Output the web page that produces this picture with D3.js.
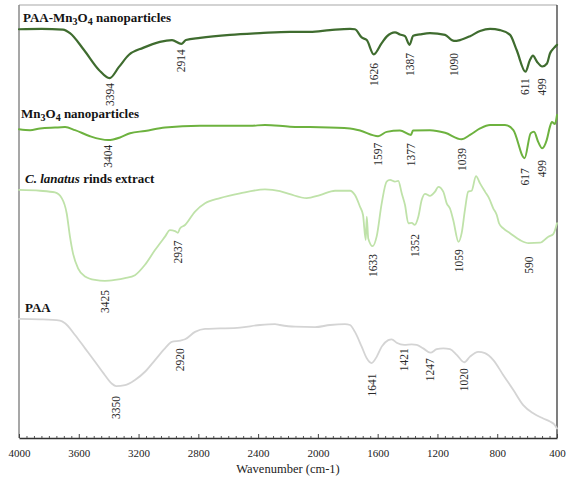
<!DOCTYPE html>
<html>
<head>
<meta charset="utf-8">
<script src="https://cdn.jsdelivr.net/npm/d3@7"></script>
<style>
  body { margin: 0; background: #fff; }
  svg { display: block; font-family: "Liberation Serif", "Times New Roman", serif; }
</style>
</head>
<body>
<svg id="chart" width="573" height="478"></svg>
<script>
// FTIR spectra, stacked with vertical offsets (arbitrary transmittance units, 0-100)
// Each point: [wavenumber (cm-1), offset transmittance]

const majorTicks = [4000, 3600, 3200, 2800, 2400, 2000, 1600, 1200, 800, 400];

const paaMnSpectrum = [
  [4000,94.4],[3850,94.5],[3706,94.3],[3659,93.5],[3565,89.6],[3465,85.0],[3394,83.1],
  [3331,85.7],[3264,88.5],[3170,90.1],[3057,91.5],[2976,91.9],[2914,91.0],[2883,91.9],
  [2789,92.4],[2588,93.1],[2387,93.5],[2187,93.8],[2053,93.8],[1919,94.2],[1785,94.5],
  [1752,94.4],[1707,92.5],[1673,91.9],[1626,88.6],[1573,91.2],[1540,92.7],[1484,93.7],
  [1451,93.2],[1417,92.8],[1387,90.8],[1362,92.9],[1317,93.2],[1250,93.5],[1149,93.1],
  [1105,91.9],[1090,91.7],[1049,91.9],[982,92.8],[915,94.0],[848,94.5],[781,94.2],
  [714,93.1],[670,89.6],[611,84.6],[581,87.3],[561,88.3],[534,86.9],[499,85.8],
  [467,86.5],[447,88.8],[420,90.1],[400,90.8]
];

const mnOxideSpectrum = [
  [4000,71.3],[3926,71.1],[3859,71.5],[3759,71.7],[3692,71.8],[3625,71.1],[3525,69.7],
  [3404,68.8],[3324,69.4],[3257,70.4],[3157,70.9],[3023,71.7],[2789,72.1],[2454,72.1],
  [2354,72.3],[2187,71.9],[2053,71.8],[1785,71.5],[1718,71.0],[1597,69.7],[1540,70.7],
  [1451,71.0],[1377,70.0],[1364,71.0],[1250,71.1],[1149,70.5],[1039,69.0],[982,70.0],
  [915,71.5],[848,72.3],[748,72.3],[692,71.1],[617,64.6],[576,70.4],[554,70.7],
  [526,68.4],[499,66.9],[469,68.8],[447,71.9],[434,73.0],[414,72.5],[400,74.6]
];

const rindExtractSpectrum = [
  [4000,57.3],[3859,57.1],[3759,56.7],[3714,55.4],[3681,51.9],[3659,46.5],[3639,42.7],
  [3605,39.2],[3558,37.3],[3491,36.5],[3425,36.3],[3358,36.5],[3291,36.9],[3224,37.6],
  [3157,40.0],[3090,43.4],[3023,46.5],[2990,48.0],[2956,47.8],[2937,47.4],[2923,48.4],
  [2889,49.2],[2822,52.3],[2755,54.2],[2655,55.4],[2521,56.5],[2354,57.4],[2254,57.0],
  [2187,56.3],[2075,55.4],[1986,56.1],[1885,57.1],[1785,57.1],[1752,56.1],[1718,53.4],
  [1698,51.5],[1680,45.7],[1673,51.1],[1663,46.1],[1633,44.3],[1607,46.5],[1573,54.2],
  [1540,59.2],[1517,59.6],[1484,59.2],[1462,59.4],[1439,56.5],[1417,53.8],[1395,49.6],
  [1372,49.7],[1352,49.2],[1328,51.1],[1305,55.0],[1283,56.4],[1250,55.9],[1216,56.9],
  [1194,58.0],[1161,56.9],[1138,54.2],[1116,53.0],[1094,50.3],[1059,45.3],[1038,47.3],
  [1016,52.7],[994,56.9],[971,57.1],[942,60.5],[915,58.8],[882,56.9],[855,55.4],
  [826,53.0],[803,51.5],[788,49.6],[759,48.4],[714,47.3],[647,45.7],[590,45.0],
  [514,45.1],[458,46.5],[425,47.1],[400,49.6]
];

const paaSpectrum = [
  [4000,27.5],[3859,27.4],[3726,27.1],[3692,26.5],[3625,23.8],[3558,20.7],[3491,17.6],
  [3425,14.5],[3380,12.6],[3350,12.0],[3291,12.2],[3224,13.4],[3157,15.3],[3090,18.0],
  [3023,20.7],[2978,22.2],[2920,22.5],[2889,22.8],[2822,24.5],[2755,25.2],[2655,25.3],
  [2521,25.5],[2387,26.1],[2287,26.3],[2254,26.1],[2153,25.7],[2019,25.6],[1919,26.1],
  [1819,26.3],[1785,26.1],[1752,24.5],[1707,21.1],[1673,18.4],[1641,17.3],[1606,18.8],
  [1573,21.1],[1529,22.6],[1506,22.8],[1473,22.0],[1421,21.5],[1372,21.6],[1339,21.5],
  [1295,20.7],[1247,19.7],[1205,20.5],[1161,20.7],[1116,20.5],[1071,19.2],[1020,17.5],
  [982,18.8],[927,19.9],[882,19.6],[826,18.0],[759,14.5],[692,11.1],[626,7.6],
  [559,5.7],[492,4.5],[447,3.8],[420,3.2],[400,2.2]
];

// Peak annotations: [wavenumber, level of the label's upper end]
const paaMnPeaks = [[3394,82.0],[2914,89.8],[1626,86.6],[1387,88.9],[1090,88.9],[611,83.1],[499,83.1]];
const mnOxidePeaks = [[3404,67.7],[1597,68.2],[1377,68.1],[1039,67.0],[617,62.3],[499,64.2]];
const rindExtractPeaks = [[3425,34.2],[2937,45.6],[1633,42.5],[1352,47.1],[1059,43.6],[590,41.9]];
const paaPeaks = [[3350,9.7],[2920,20.7],[1641,14.9],[1421,20.7],[1247,18.4],[1020,16.1]];

// Series names (text runs: s = subscript, i = italic)
const paaMnName = [{t:"PAA-Mn"},{t:"3",s:true},{t:"O"},{t:"4",s:true},{t:" nanoparticles"}];
const mnOxideName = [{t:"Mn"},{t:"3",s:true},{t:"O"},{t:"4",s:true},{t:" nanoparticles"}];
const rindExtractName = [{t:"C. lanatus",i:true},{t:" rinds extract"}];
const paaName = [{t:"PAA"}];

const series = [
  { name: paaMnName, points: paaMnSpectrum, peaks: paaMnPeaks, color: "#3f6c2f", width: 2.2, titleLift: 7, titleX: 4 },
  { name: mnOxideName, points: mnOxideSpectrum, peaks: mnOxidePeaks, color: "#6db23f", width: 2.0, titleLift: 11, titleX: 2 },
  { name: rindExtractName, points: rindExtractSpectrum, peaks: rindExtractPeaks, color: "#bfe2a9", width: 1.8, titleLift: 7, titleX: 6 },
  { name: paaName, points: paaSpectrum, peaks: paaPeaks, color: "#d4d4d4", width: 1.8, titleLift: 7, titleX: 6 }
];

const W = 573, H = 478;
const margin = { top: 5, right: 16, bottom: 40, left: 19 };

const svg = d3.select("#chart");

const x = d3.scaleLinear().domain([4000, 400]).range([margin.left, W - margin.right]);
const y = d3.scaleLinear().domain([0, 100]).range([H - margin.bottom, margin.top]);

// Plot frame
const frame = svg.append("g");
frame.append("line").attr("x1", x(4000)).attr("x2", x(400)).attr("y1", y(100)).attr("y2", y(100))
  .attr("stroke", "#a8a8a8").attr("stroke-width", 1.2);
frame.append("line").attr("x1", x(4000)).attr("x2", x(4000)).attr("y1", y(100)).attr("y2", y(0))
  .attr("stroke", "#8a8a8a").attr("stroke-width", 1.5);
frame.append("line").attr("x1", x(400)).attr("x2", x(400)).attr("y1", y(100)).attr("y2", y(0))
  .attr("stroke", "#3a3a3a").attr("stroke-width", 1.3);

// Spectra
const line = d3.line()
  .x(d => x(d[0]))
  .y(d => y(d[1]))
  .curve(d3.curveMonotoneX);

series.forEach(s => {
  svg.append("path")
    .datum(s.points)
    .attr("fill", "none")
    .attr("stroke", s.color)
    .attr("stroke-width", s.width)
    .attr("stroke-linejoin", "round")
    .attr("stroke-linecap", "round")
    .attr("d", line);
});

// Peak labels, rotated, hanging below each band
series.forEach(s => {
  svg.append("g").selectAll("text")
    .data(s.peaks)
    .join("text")
    .attr("transform", d => `translate(${x(d[0])},${y(d[1])}) rotate(-90)`)
    .attr("text-anchor", "end")
    .attr("dy", "0.35em")
    .attr("font-size", 11.5)
    .attr("fill", "#2a2a2a")
    .text(d => d[0]);
});

// Series titles
series.forEach(s => {
  const t = svg.append("text")
    .attr("x", x(4000) + s.titleX)
    .attr("y", y(s.points[0][1]) - s.titleLift)
    .attr("font-size", 13)
    .attr("font-weight", "bold")
    .attr("fill", "#141414");
  let shifted = false;
  s.name.forEach(r => {
    const sp = t.append("tspan").text(r.t);
    if (r.i) sp.attr("font-style", "italic");
    if (r.s) {
      sp.attr("font-size", 10).attr("dy", "3");
      shifted = true;
    } else if (shifted) {
      sp.attr("dy", "-3");
      shifted = false;
    }
  });
});

// Wavenumber axis with inward ticks
const axisG = svg.append("g").attr("transform", `translate(0,${y(0)})`);
axisG.call(d3.axisBottom(x).tickValues(majorTicks).tickSizeInner(-4).tickSizeOuter(0).tickPadding(11)
  .tickFormat(d3.format("d")));
axisG.select(".domain").attr("stroke", "#333").attr("stroke-width", 1.5);
axisG.selectAll(".tick line").attr("stroke", "#444");
axisG.selectAll(".tick text").attr("font-family", "Liberation Serif, serif").attr("font-size", 11).attr("fill", "#222");

const minorTicks = d3.range(3950, 400, -50).filter(v => !majorTicks.includes(v));
const minorG = svg.append("g").attr("transform", `translate(0,${y(0)})`);
minorG.call(d3.axisBottom(x).tickValues(minorTicks).tickSizeInner(-2).tickSizeOuter(0).tickFormat(""));
minorG.select(".domain").remove();
minorG.selectAll(".tick line").attr("stroke", "#555");

svg.append("text")
  .attr("x", (x(4000) + x(400)) / 2)
  .attr("y", y(0) + 34.5)
  .attr("text-anchor", "middle")
  .attr("font-size", 12.5)
  .attr("fill", "#222")
  .text("Wavenumber (cm-1)");
</script>
</body>
</html>
